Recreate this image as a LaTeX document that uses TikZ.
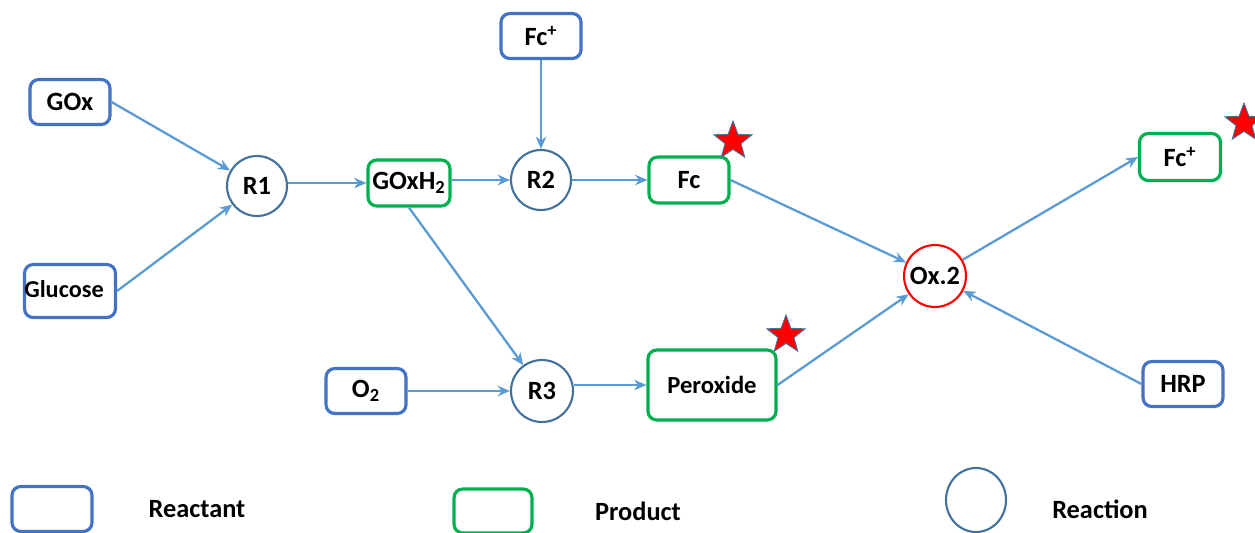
\documentclass[tikz,border=0pt]{standalone}
\usepackage{fontspec}
\setmainfont{Carlito}
\usetikzlibrary{arrows.meta,shapes.geometric}
\definecolor{reac}{HTML}{4472C4}
\definecolor{prod}{HTML}{00B050}
\definecolor{rxn}{HTML}{41719C}
\definecolor{arr}{HTML}{5B9BD5}
\begin{document}
\begin{tikzpicture}[x=0.02cm,y=-0.02cm,
  reactant/.style={draw=reac,line width=1.8pt,rounded corners=5pt,fill=white,minimum width=1.6cm,minimum height=0.9cm,inner sep=0pt,font=\bfseries\fontsize{15}{17}\selectfont},
  product/.style={draw=prod,line width=1.8pt,rounded corners=5pt,fill=white,minimum width=1.6cm,minimum height=0.92cm,inner sep=0pt,font=\bfseries\fontsize{15}{17}\selectfont},
  reaction/.style={circle,draw=rxn,line width=1.2pt,minimum size=1.2cm,inner sep=0pt,font=\bfseries\fontsize{15}{17}\selectfont},
  flow/.style={draw=arr,line width=1.3pt,-{Stealth[length=7pt,width=6pt]}},
  starmark/.style={star,star points=5,star point ratio=2.4,fill=red,draw=rxn,line width=0.5pt,minimum size=0.8cm,inner sep=0pt},
  legtext/.style={font=\bfseries\fontsize{15}{17}\selectfont}]
\useasboundingbox (0,0) rectangle (1255,532);
% reactants
\node[reactant] (GOx) at (70,102) {GOx};
\node[reactant,minimum width=1.82cm,minimum height=1.06cm] (Glu) at (70,291) {};
\node[font=\bfseries\fontsize{13.8}{16}\selectfont] (GluT) at (64,289) {Glucose};
\node[reactant] (FcT) at (541,36) {Fc\textsuperscript{+}};
\node[reactant] (O2) at (366,391) {O\textsubscript{2}};
\node[reactant] (HRP) at (1183,384) {HRP};
% reactions
\node[reaction] (R1) at (257,186) {R1};
\node[reaction] (R2) at (541,180) {R2};
\node[reaction,minimum size=1.24cm] (R3) at (542,391) {R3};
\node[reaction,draw=red,minimum size=1.24cm] (Ox) at (935,276) {Ox.2};
% products
\node[product,minimum width=1.64cm] (GH) at (409,183) {GOxH\textsubscript{2}};
\node[product] (Fc) at (689,180) {Fc};
\node[product,minimum width=2.56cm,minimum height=1.4cm,font=\bfseries\fontsize{14}{16}\selectfont] (Per) at (712,385) {Peroxide};
\node[product,minimum width=1.62cm,minimum height=0.94cm] (FcR) at (1180,157) {Fc\textsuperscript{+}};
% stars
\node[starmark] (s1) at (733,141) {};
\node[starmark] (s2) at (786,335) {};
\node[starmark] (s3) at (1244,123) {};
% connectors
\draw[flow] (GOx.east) -- (R1);
\draw[flow] (Glu.east) -- (R1);
\draw[flow] (R1.east |- GH) -- (GH);
\draw[flow] (GH.east |- R2) -- (R2);
\draw[flow] (GH.south) -- (R3);
\draw[flow] (FcT) -- (R2);
\draw[flow] (R2) -- (Fc);
\draw[flow] (O2) -- (R3);
\draw[flow] (R3.east |- Per) -- (Per);
\draw[flow] (Fc.east) -- (Ox);
\draw[flow] (Per.east) -- (Ox);
\draw[flow] (Ox) -- (FcR.west);
\draw[flow] (HRP.west) -- (Ox);
% legend
\node[reactant,minimum width=1.6cm,minimum height=0.9cm] (L1) at (52,509) {};
\node[legtext] (L1t) at (197,509) {Reactant};
\node[product,minimum width=1.56cm,minimum height=0.88cm] (L2) at (493,511) {};
\node[legtext] (L2t) at (638,511) {Product};
\node[ellipse,draw=rxn,line width=1.2pt,minimum width=1.2cm,minimum height=1.28cm,inner sep=0pt] (L3) at (976,500) {};
\node[legtext] (L3t) at (1100,509) {Reaction};
\end{tikzpicture}
\end{document}
